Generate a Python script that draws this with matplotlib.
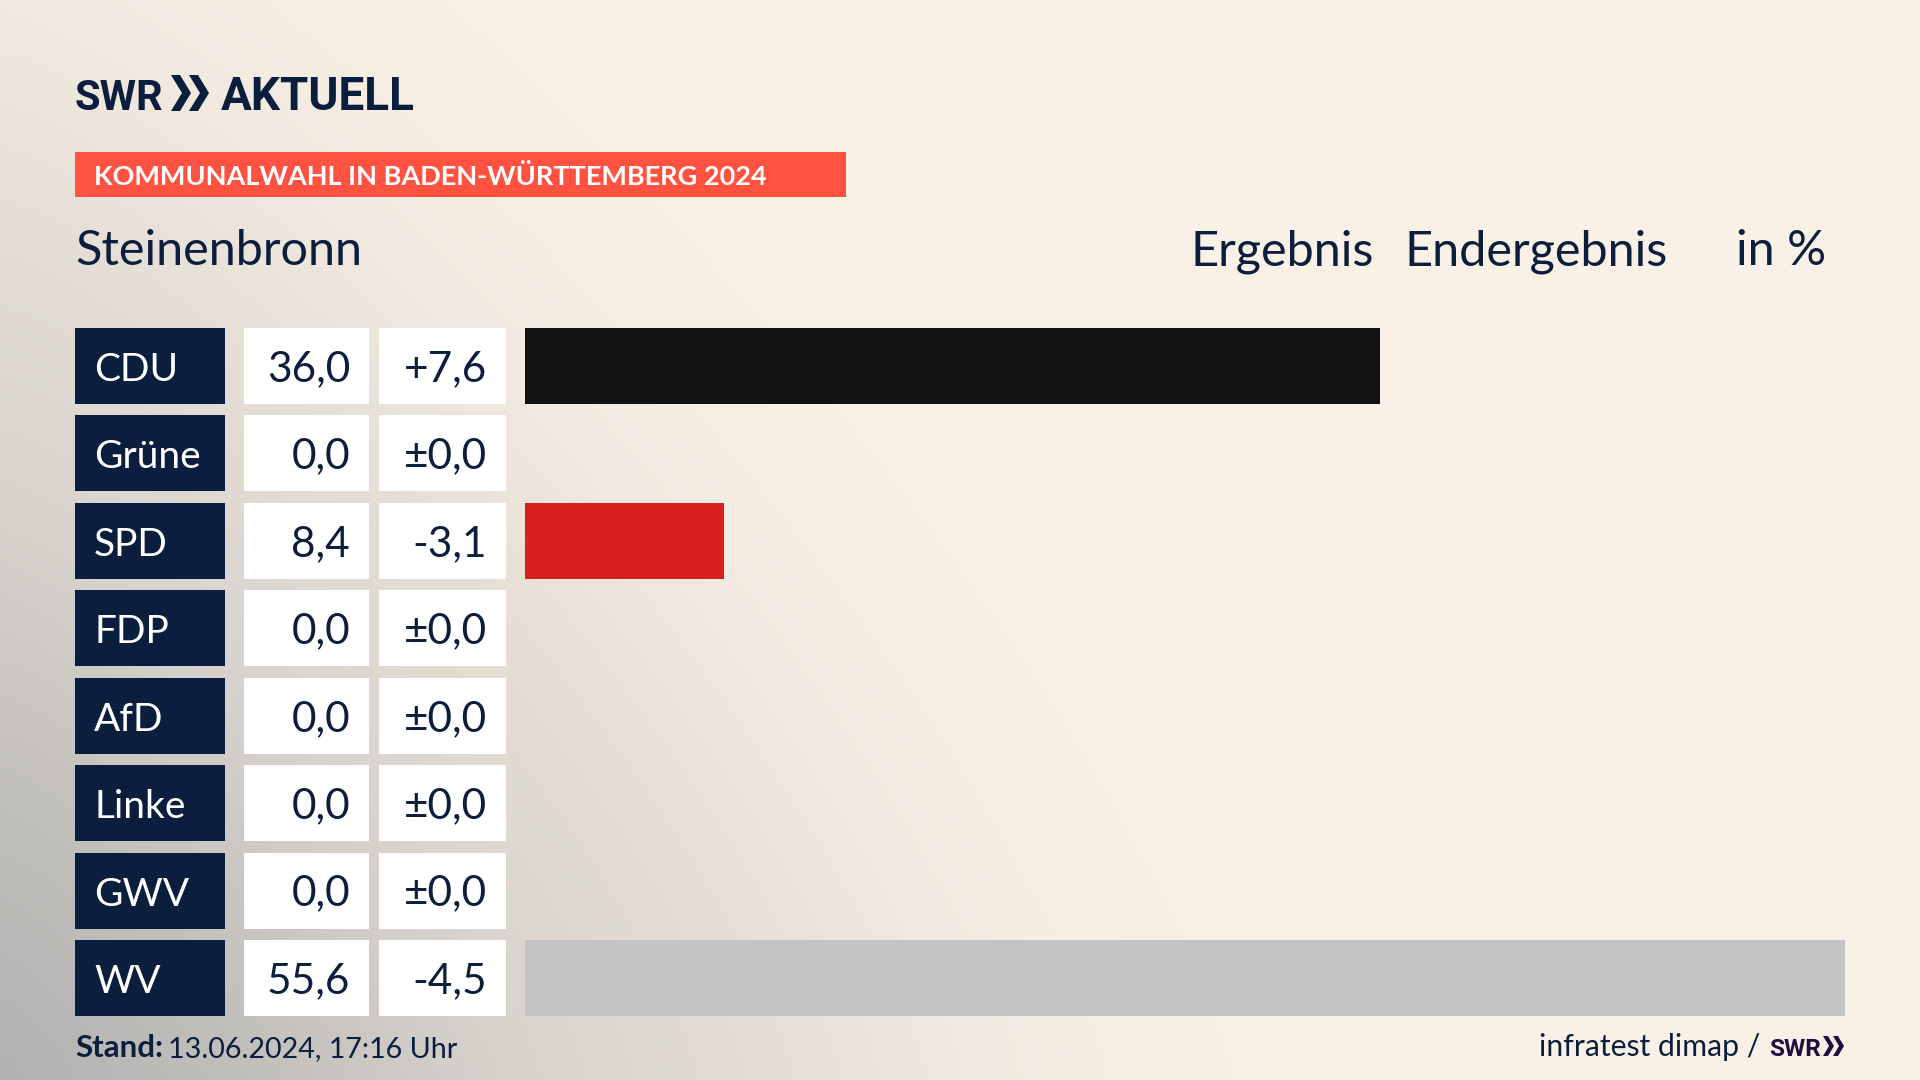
import matplotlib
matplotlib.use('Agg')
import matplotlib.pyplot as plt
from matplotlib.patches import Rectangle, Polygon
import numpy as np

# Daten
parteien = ['CDU', 'Grüne', 'SPD', 'FDP', 'AfD', 'Linke', 'GWV', 'WV']
ergebnis = [36.0, 0.0, 8.4, 0.0, 0.0, 0.0, 0.0, 55.6]
differenz = ['+7,6', '±0,0', '-3,1', '±0,0', '±0,0', '±0,0', '±0,0', '-4,5']
farben = ['#121212', '#1e8a3c', '#d7201b', '#ffd500', '#009ee0', '#b01c6e', '#c4c4c4', '#c4c4c4']

NAVY = '#0b1e3d'
CREME = np.array([250, 241, 230]) / 255
GRAU = np.array([178, 178, 177]) / 255
FONT = 'Lato'
LOGO_FONT = ['Liberation Sans Narrow', 'Roboto']

plt.rcParams['font.family'] = [FONT, 'DejaVu Sans']
fig = plt.figure(figsize=(19.2, 10.8), dpi=100)

# Ebene in Pixelkoordinaten für Hintergrund, Kästen und Texte
bg = fig.add_axes([0, 0, 1, 1])
bg.set_xlim(0, 1920)
bg.set_ylim(1080, 0)
bg.axis('off')

# Verlauf unten links
yy, xx = np.mgrid[0:1080:270j, 0:1920:480j]
r = ((xx / 1350) ** 1.3 + ((1080 - yy) / 1500) ** 1.3) ** (1 / 1.3)
a = np.interp(r, [0, 0.19, 0.39, 0.59, 0.72, 0.81, 0.96], [1, 0.78, 0.47, 0.28, 0.12, 0.06, 0])
img = CREME[None, None, :] * (1 - a[..., None]) + GRAU[None, None, :] * a[..., None]
bg.imshow(img, extent=(0, 1920, 1080, 0), aspect='auto', interpolation='bilinear', zorder=0)


def chevrons(x0, y0, y1, breite, abstand, farbe=NAVY):
    # die zwei Pfeile im SWR Logo
    mitte = (y0 + y1) / 2
    for k in range(2):
        x = x0 + k * abstand
        s = breite * 0.45
        bg.add_patch(Polygon([(x, y0), (x + s, y0), (x + breite, mitte), (x + s, y1), (x, y1),
                              (x + breite - s, mitte)], closed=True, fc=farbe, ec='none', zorder=3))


# Logo
bg.text(75, 110, 'SWR', fontsize=30, fontweight='bold', family=LOGO_FONT, color=NAVY, va='baseline', ha='left', zorder=3)
chevrons(171, 75, 111, 20, 18)
bg.text(221, 110, 'AKTUELL', fontsize=33, fontweight='bold', family=LOGO_FONT, color=NAVY, va='baseline', ha='left', zorder=3)

# Banner
bg.add_patch(Rectangle((75, 152), 771, 45, fc='#ff5240', ec='none', zorder=2))
bg.text(94, 185, 'KOMMUNALWAHL IN BADEN-WÜRTTEMBERG 2024', fontsize=19.5, fontweight='bold',
        color='white', va='baseline', ha='left', zorder=3)

# Kopfzeile
bg.text(75, 265, 'Steinenbronn', fontsize=35, color=NAVY, va='baseline', ha='left', zorder=3)
bg.text(1374, 265, 'Ergebnis', fontsize=35, color=NAVY, va='baseline', ha='right', zorder=3)
bg.text(1668, 265, 'Endergebnis', fontsize=35, color=NAVY, va='baseline', ha='right', zorder=3)
bg.text(1826, 265, 'in %', fontsize=35, color=NAVY, va='baseline', ha='right', zorder=3)

# Zeilen
y_oben = 328
teilung = 87.43
hoehe = 76
for i, partei in enumerate(parteien):
    y = y_oben + i * teilung
    bg.add_patch(Rectangle((75, y), 150, hoehe, fc=NAVY, ec='none', zorder=2))
    bg.add_patch(Rectangle((244, y), 125, hoehe, fc='white', ec='none', zorder=2))
    bg.add_patch(Rectangle((379, y), 127, hoehe, fc='white', ec='none', zorder=2))
    base = y + 53
    bg.text(94, base, partei, fontsize=28, color='white', va='baseline', ha='left', zorder=3)
    bg.text(350, base, f'{ergebnis[i]:.1f}'.replace('.', ','), fontsize=30.5, color=NAVY,
            va='baseline', ha='right', zorder=3)
    bg.text(487, base, differenz[i], fontsize=30.5, color=NAVY, va='baseline', ha='right', zorder=3)

# Balken
ax = fig.add_axes([525 / 1920, 1 - 1016 / 1080, (1845 - 525) / 1920, (1016 - 328) / 1080])
ax.patch.set_alpha(0)
ax.barh(range(len(parteien)), ergebnis, height=hoehe / teilung, color=farben)
ax.set_xlim(0, 55.6)
ax.set_ylim(len(parteien) - 1 + hoehe / teilung / 2, -hoehe / teilung / 2)
ax.axis('off')

# Fusszeile
bg.text(75, 1057, 'Stand:', fontsize=22.5, fontweight='bold', color=NAVY, va='baseline', ha='left', zorder=3)
bg.text(168, 1057, '13.06.2024, 17:16 Uhr', fontsize=20.6, color=NAVY, va='baseline', ha='left', zorder=3)
bg.text(1760, 1056, 'infratest dimap /', fontsize=21.7, color=NAVY, va='baseline', ha='right', zorder=3)
bg.text(1769, 1056, 'SWR', fontsize=17.5, fontweight='bold', family=LOGO_FONT, color='#1d0f3f', va='baseline', ha='left', zorder=3)
chevrons(1823, 1036, 1056, 11, 10, '#1d0f3f')

fig.savefig('out.png', dpi=100)
